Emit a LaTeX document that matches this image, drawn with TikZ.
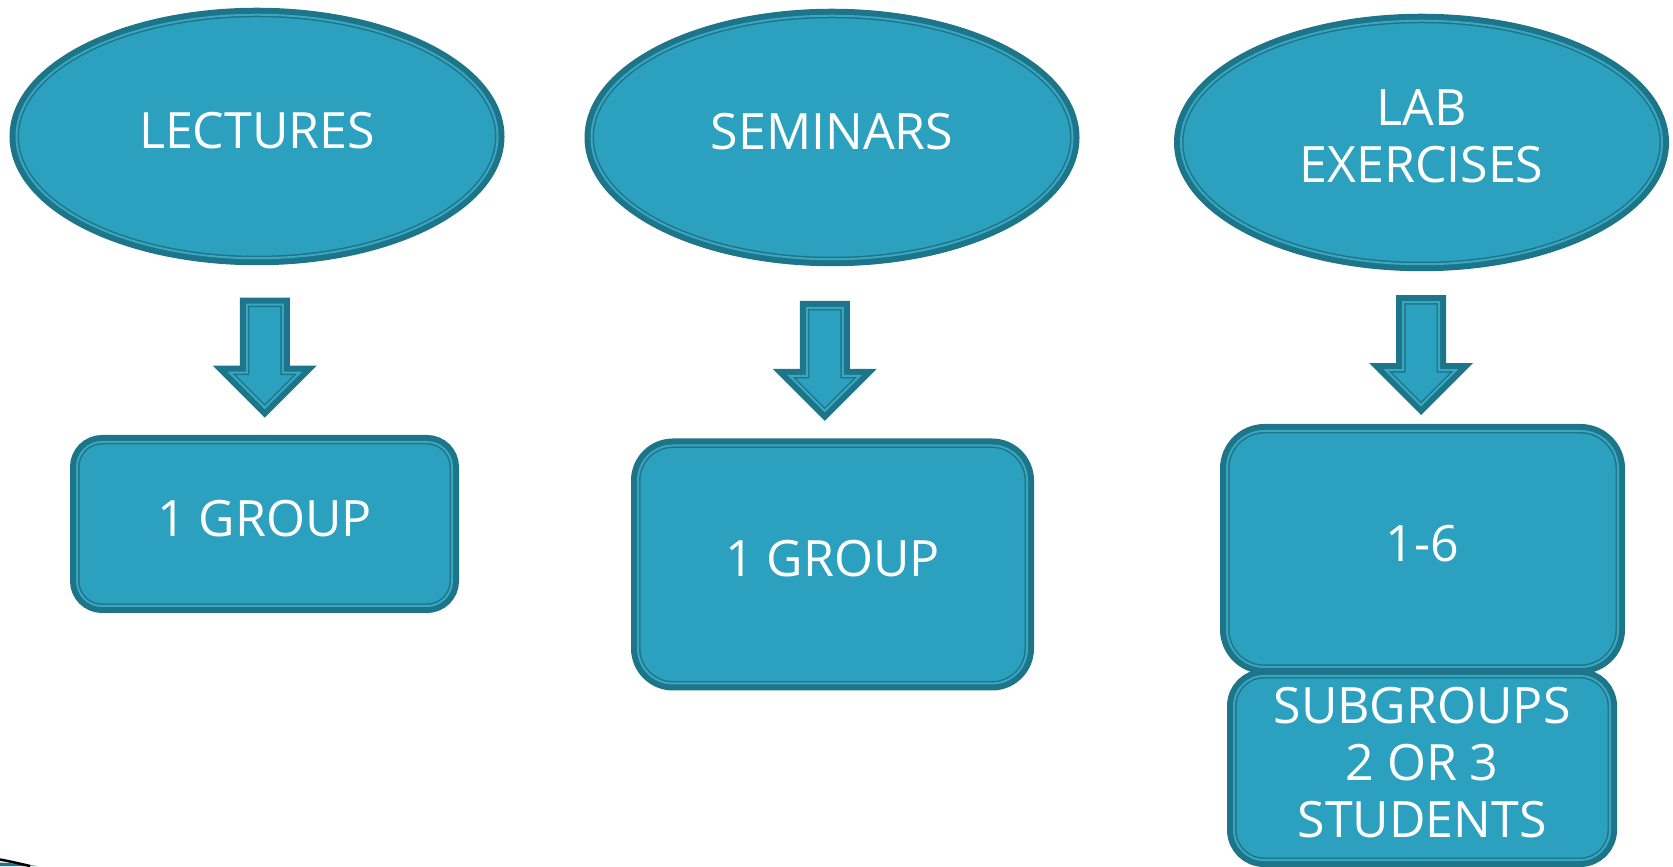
\documentclass[tikz,border=0pt]{standalone}
\usepackage{fontspec}
\setmainfont{Open Sans}
\usepackage{tikz}
\usetikzlibrary{positioning,calc,shapes.geometric}

\definecolor{tealfill}{RGB}{44,161,191}
\definecolor{tealedge}{RGB}{29,117,137}
\definecolor{teallite}{RGB}{58,166,192}

\tikzset{
  pics/blockdown/.style={code={
    \draw[rim, line join=miter] (-0.36,1.06) -- (0.36,1.06) -- (0.36,-0.30) -- (0.70,-0.30)
      -- (0,-1.0) -- (-0.70,-0.30) -- (-0.36,-0.30) -- cycle;
  }}
}

\begin{document}
\begin{tikzpicture}[
  every node/.style={font=\fontsize{28.5}{32.5}\selectfont, text=white},
  rim/.style={fill=tealfill, draw=tealedge, line width=0.03cm, double=teallite,
    double distance=0.04cm, preaction={draw=tealedge, line width=0.28cm}},
  oval/.style={ellipse, rim, minimum width=9.62cm, minimum height=4.87cm,
    inner sep=0pt, align=center, text depth=0.24cm},
  groupbox/.style={rectangle, rim, rounded corners=0.5cm, inner sep=0pt,
    align=center, text depth=0.24cm}
]
\useasboundingbox (0,0) rectangle (33.46,17.32);
% Kinds of classes
\node[oval] (lec) at (5.14, 14.59) {LECTURES};
\node[oval] (sem) at (16.64, 14.57) {SEMINARS};
\node[oval] (lab) at (28.43, 14.47) {LAB\\EXERCISES};
% Group sizes
\node[groupbox, minimum width=7.5cm, minimum height=3.28cm] (lecgrp) at (5.29, 6.84) {1 GROUP};
\node[groupbox, minimum width=7.78cm, minimum height=4.76cm, rounded corners=0.7cm] (semgrp) at (16.65, 6.03) {1 GROUP};
\node[groupbox, minimum width=7.82cm, minimum height=4.72cm, rounded corners=0.75cm] (labgrp) at (28.45, 6.34) {1-6};
\node[groupbox, minimum width=7.52cm, minimum height=3.68cm, rounded corners=0.6cm] (labsub) at (28.44, 1.96) {SUBGROUPS\\2 OR 3\\STUDENTS};
% Block arrows between the rows
\pic at ($(lec.south)!0.5!(lecgrp.north)+(0.08,-0.15)$) {blockdown};
\pic at ($(sem.south)!0.5!(semgrp.north)+(-0.15,-0.17)$) {blockdown};
\pic at ($(lab.south)!0.5!(labgrp.north)+(-0.02,-0.15)$) {blockdown};
% corner swoosh
\fill[tealedge] (0,0) -- (0,0.07) .. controls (0.3,0.05) .. (0.75,0) -- cycle;
\draw[black, line width=0.05cm] (0,0.13) .. controls (0.25,0.08) .. (0.6,0.0);
\end{tikzpicture}
\end{document}
